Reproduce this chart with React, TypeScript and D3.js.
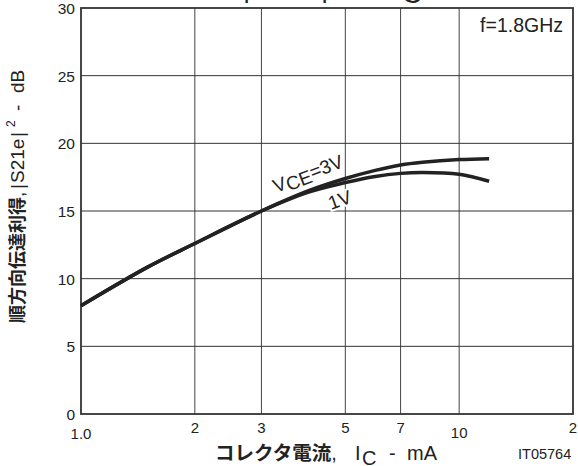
import * as d3 from "d3";

// collector current, mA
const icValues = [1, 1.5, 2, 3, 4, 5, 6, 7, 8, 10, 12];
// |S21e|^2 in dB
const gain3V = [8.0, 10.85, 12.6, 15.0, 16.5, 17.4, 18.0, 18.4, 18.6, 18.8, 18.87];
const gain1V = [8.0, 10.85, 12.6, 15.0, 16.4, 17.1, 17.55, 17.78, 17.85, 17.72, 17.2];

const xGrid = [2, 3, 5, 7, 10];
const xTickLabels = [
  { v: 1, t: "1.0", dy: 6 },
  { v: 2, t: "2", dy: 0 },
  { v: 3, t: "3", dy: 0 },
  { v: 5, t: "5", dy: 0 },
  { v: 7, t: "7", dy: 0 },
  { v: 10, t: "10", dy: 5 },
  { v: 20, t: "2", dy: 0 },
];
const yTicks = [0, 5, 10, 15, 20, 25, 30];

const W = 578;
const H = 466;
const left = 81;
const right = 573;
const top = 8;
const bottom = 414;

export default function App() {
  const x = d3.scaleLog().domain([1, 20]).range([left, right]);
  const y = d3.scaleLinear().domain([0, 30]).range([bottom, top]);

  const line = d3
    .line<number>()
    .x((_, i) => x(icValues[i]))
    .y((d) => y(d))
    .curve(d3.curveCatmullRom.alpha(0.5));

  const font = "'Liberation Sans', Arial, sans-serif";
  const jp = "'Noto Sans CJK JP', sans-serif";

  return (
    <svg
      width={W}
      height={H}
      style={{ position: "absolute", left: 0, top: 0, background: "#fff" }}
      fontFamily={font}
    >
      {/* title, mostly above the picture */}
      <text y={-3} fontSize={28} fill="#222">
        <tspan x={243}>|</tspan>
        <tspan>S21e</tspan>
        <tspan x={321}>|</tspan>
        <tspan x={402} dy={6}>C</tspan>
      </text>

      {/* grid */}
      {xGrid.map((v) => (
        <line key={"x" + v} x1={x(v)} x2={x(v)} y1={top} y2={bottom} stroke="#444" strokeWidth={1} />
      ))}
      {yTicks.slice(1, -1).map((v) => (
        <line key={"y" + v} x1={left} x2={right} y1={y(v)} y2={y(v)} stroke="#333" strokeWidth={1} />
      ))}
      <rect x={left} y={top} width={right - left} height={bottom - top} fill="none" stroke="#333" strokeWidth={1.8} />

      {/* curves */}
      <path d={line(gain1V) ?? ""} fill="none" stroke="#222" strokeWidth={3.5} />
      <path d={line(gain3V) ?? ""} fill="none" stroke="#222" strokeWidth={3.5} />

      {/* curve labels */}
      <text
        transform="translate(276,193) rotate(-21)"
        fontSize={19}
        fill="#222"
        stroke="#fff"
        strokeWidth={4}
        paintOrder="stroke"
      >
        V<tspan dy={3}>CE</tspan><tspan dy={-3}>=3V</tspan>
      </text>
      <text
        transform="translate(331,210) rotate(-20)"
        fontSize={19}
        fill="#222"
        stroke="#fff"
        strokeWidth={4}
        paintOrder="stroke"
      >
        1V
      </text>

      <text x={563} y={32} fontSize={19.5} textAnchor="end" fill="#222">
        f=1.8GHz
      </text>

      {/* y tick labels */}
      {yTicks.map((v) => (
        <text key={"yl" + v} x={75} y={y(v) + 6} fontSize={15.5} textAnchor="end" fill="#222">
          {v}
        </text>
      ))}

      {/* x tick labels */}
      {xTickLabels.map((d) => (
        <text key={"xl" + d.v} x={x(d.v)} y={433 + d.dy} fontSize={15} textAnchor="middle" fill="#222">
          {d.t}
        </text>
      ))}

      {/* axis titles */}
      <text y={460} fontSize={20} fill="#222">
        <tspan x={215} fontFamily={jp} fontWeight="bold" fontSize={19.5}>コレクタ電流</tspan>
        <tspan>,</tspan>
        <tspan x={355}>I</tspan>
        <tspan x={362} dy={5}>C</tspan>
        <tspan x={389} dy={-5}>-</tspan>
        <tspan x={407}>mA</tspan>
      </text>
      <text x={518} y={459} fontSize={14.5} fill="#222">
        IT05764
      </text>

      <text transform="translate(24,323) rotate(-90)" fontSize={19} fill="#222">
        <tspan x={0} fontFamily={jp} fontWeight="bold" fontSize={18}>順方向伝達利得</tspan>
        <tspan>,</tspan>
        <tspan x={134}>|</tspan>
        <tspan x={140}>S21e</tspan>
        <tspan x={186}>|</tspan>
        <tspan x={196} dy={-9} fontSize={12}>2</tspan>
        <tspan x={212} dy={9}>-</tspan>
        <tspan x={230}>dB</tspan>
      </text>
    </svg>
  );
}
